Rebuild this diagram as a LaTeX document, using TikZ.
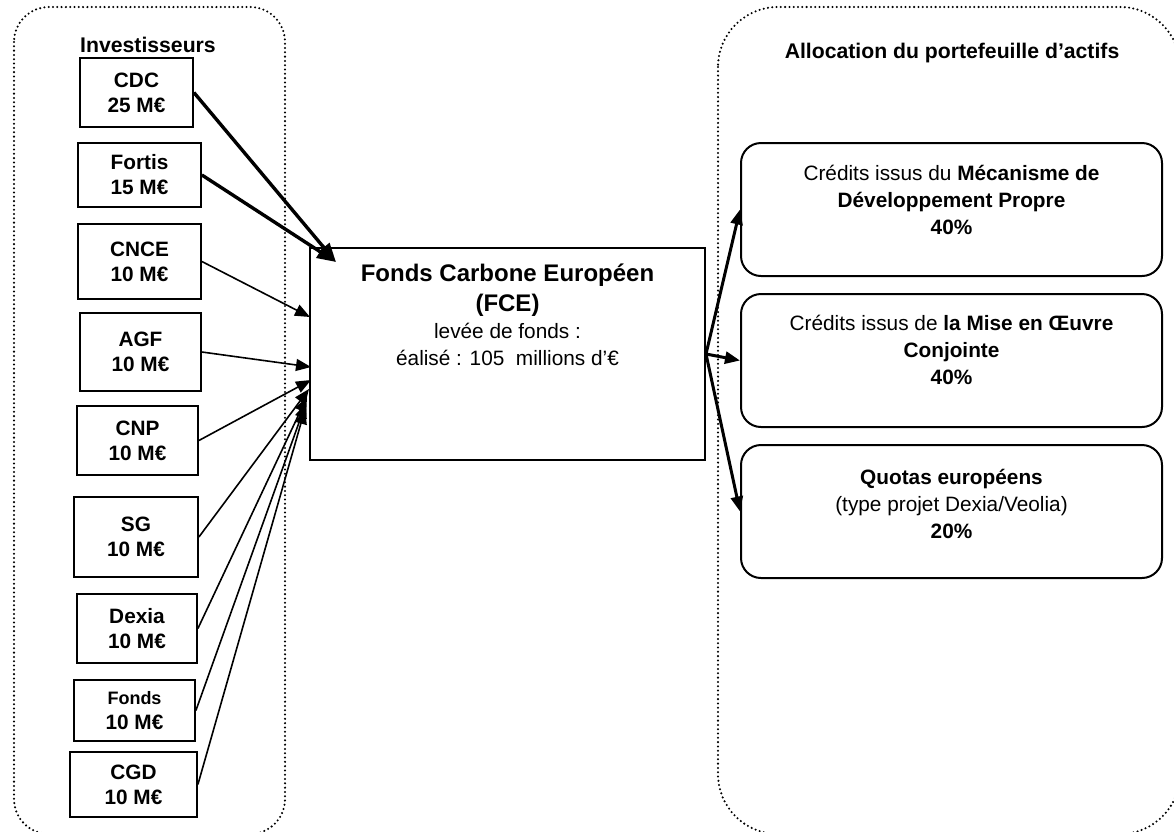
\documentclass[tikz,border=0pt]{standalone}
\usepackage{fontspec}
\setmainfont{Liberation Sans}
\usetikzlibrary{arrows.meta,calc}
\begin{document}
\begin{tikzpicture}[x=1pt,y=-1pt,
  container/.style={draw, line width=2.3pt, dash pattern=on 0pt off 4.3pt, line cap=round},
  inv/.style={draw, line width=1.8pt, align=center, inner sep=0pt, font=\fontsize{20.8}{25}\selectfont\bfseries},
  fcebox/.style={draw, line width=2pt, inner sep=0pt, minimum width=395pt, minimum height=212pt},
  alloc/.style={draw, line width=2pt, rounded corners=20pt, inner sep=0pt, minimum width=421pt, minimum height=133pt},
  txt/.style={align=center, inner sep=0pt, anchor=north, font=\fontsize{20.8}{27}\selectfont},
  title/.style={inner sep=0pt, font=\fontsize{21.2}{25}\selectfont\bfseries},
  thinarrow/.style={-{Triangle[length=15pt,width=12pt]}, line width=1.6pt},
  thickarrow/.style={-{Triangle[length=19pt,width=14pt]}, line width=3.4pt},
  outarrow/.style={-{Triangle[length=15pt,width=12pt]}, line width=3pt}
]
\useasboundingbox (0,0) rectangle (1174,831);
\fill[white] (0,0) rectangle (1174,831);

% containers
\draw[container, rounded corners=35pt] (14,7) rectangle (285,834);
\draw[container, rounded corners=60pt] (718,7) rectangle (1180,834);

\node[title] (invt) at (148,45) {Investisseurs};
\node[title] (allt) at (952,53) {Allocation du portefeuille d’actifs};

% investors
\node[inv, minimum width=113pt, minimum height=69pt] (cdc) at (136.5,92.5) {CDC\\25 M€};
\node[inv, minimum width=123pt, minimum height=64pt] (fortis) at (139.5,175) {Fortis\\15 M€};
\node[inv, minimum width=123pt, minimum height=75pt] (cnce) at (139.5,261.5) {CNCE\\10 M€};
\node[inv, minimum width=121pt, minimum height=78pt] (agf) at (140.5,352) {AGF\\10 M€};
\node[inv, minimum width=121pt, minimum height=69pt] (cnp) at (137.5,440.5) {CNP\\10 M€};
\node[inv, minimum width=124pt, minimum height=80pt] (sg) at (136,537) {SG\\10 M€};
\node[inv, minimum width=120pt, minimum height=69pt] (dexia) at (137,628.5) {Dexia\\10 M€};
\node[inv, minimum width=121pt, minimum height=61pt] (fonds) at (134.5,710.5) {{\fontsize{18}{22}\selectfont Fonds}\\10 M€};
\node[inv, minimum width=127pt, minimum height=65pt] (cgd) at (133.5,784.5) {CGD\\10 M€};

% central fund
\node[fcebox] (fce) at (507.5,354) {};
\node[txt] (fcet) at ($(fce.north)+(0,17)$) {{\fontsize{24}{29}\selectfont\bfseries Fonds Carbone Européen}\\[3pt]{\fontsize{24}{29}\selectfont\bfseries (FCE)}\\levée de fonds :\\éalisé : 105\ \ millions d’€};

% allocation boxes
\node[alloc] (a1) at (951.5,209.5) {};
\node[alloc] (a2) at (951.5,360.5) {};
\node[alloc] (a3) at (951.5,511.5) {};
\node[txt] (a1t) at ($(a1.north)+(0,23)$) {Crédits issus du \textbf{Mécanisme de}\\\textbf{Développement Propre}\\\textbf{40\%}};
\node[txt] (a2t) at ($(a2.north)+(0,22)$) {Crédits issus de \textbf{la Mise en Œuvre}\\\textbf{Conjointe}\\\textbf{40\%}};
\node[txt] (a3t) at ($(a3.north)+(0,25)$) {\textbf{Quotas européens}\\(type projet Dexia/Veolia)\\\textbf{20\%}};

% connectors
\draw[thickarrow] (cdc.east) -- ($(fce.north west)+(27,15)$);
\draw[thickarrow] (fortis.east) -- ($(fce.north west)+(27,15)$);
\draw[thinarrow] (cnce.east) -- ($(fce.north west)+(1,70)$);
\draw[thinarrow] (agf.east) -- ($(fce.north west)+(2,120)$);
\draw[thinarrow] (cnp.east) -- ($(fce.north west)+(2,133)$);
\draw[thinarrow] (sg.east) -- ($(fce.north west)+(0,142)$);
\draw[thinarrow] (dexia.east) -- ($(fce.north west)+(-2,150)$);
\draw[thinarrow] (fonds.east) -- ($(fce.north west)+(-3,156)$);
\draw[thinarrow] (cgd.east) -- ($(fce.north west)+(-4,162)$);

\draw[outarrow] (fce.east) -- (a1.west);
\draw[outarrow] (fce.east) -- (a2.west);
\draw[outarrow] (fce.east) -- (a3.west);
\end{tikzpicture}
\end{document}
